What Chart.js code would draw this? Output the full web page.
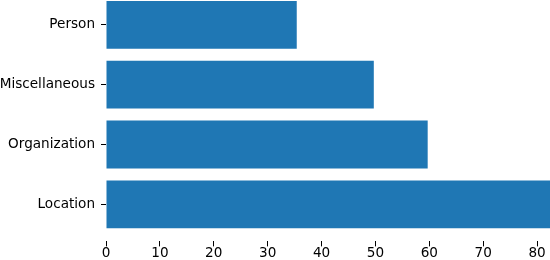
<!DOCTYPE html>
<html lang="en">
<head>
  <meta charset="UTF-8">
  <title>Entity Types</title>
  <script src="https://cdn.jsdelivr.net/npm/chart.js"></script>
  <style>
    * {
      margin: 0;
      padding: 0;
      box-sizing: border-box;
    }

    body {
      background-color: #fff;
    }

    .chart-container {
      position: relative;
      width: 550px;
      height: 260px;
    }
  </style>
</head>
<body>
  <div class="chart-container">
    <canvas id="entityChart"></canvas>
  </div>

  <script>
    // bottom to top, as in the picture
    const categories = ['Location', 'Organization', 'Miscellaneous', 'Person'];
    const counts = [82.4, 59.7, 49.7, 35.4];
    const xTicks = [0, 10, 20, 30, 40, 50, 60, 70, 80];

    const points = categories.map((name, i) => ({ x: counts[i], y: i }));

    const font = { family: "'DejaVu Sans', sans-serif", size: 13.6, lineHeight: 1 };

    const ctx = document.getElementById('entityChart').getContext('2d');
    new Chart(ctx, {
      type: 'bar',
      data: {
        datasets: [{
          data: points,
          backgroundColor: '#1f77b4',
          borderWidth: 0,
          barPercentage: 1,
          categoryPercentage: 0.8
        }]
      },
      options: {
        indexAxis: 'y',
        responsive: true,
        maintainAspectRatio: false,
        animation: false,
        layout: { padding: 0 },
        scales: {
          x: {
            type: 'linear',
            min: 0,
            max: 82.4,
            border: { display: false },
            grid: {
              drawOnChartArea: false,
              tickLength: 5,
              tickColor: '#000'
            },
            ticks: {
              stepSize: 10,
              includeBounds: false,
              color: '#000',
              font: font,
              padding: 0,
              maxRotation: 0,
              autoSkip: false,
              callback: v => xTicks.includes(v) ? String(v) : ''
            }
          },
          y: {
            type: 'linear',
            min: -0.62,
            max: 3.415,
            offset: false,
            border: { display: false },
            grid: {
              offset: false,
              drawOnChartArea: false,
              tickLength: 5,
              tickColor: '#000'
            },
            ticks: {
              stepSize: 1,
              includeBounds: false,
              color: '#000',
              font: font,
              padding: 6,
              autoSkip: false,
              callback: v => categories[v] !== undefined ? categories[v] : ''
            },
            afterFit: scale => {
              scale.width = 106;
              scale.paddingTop = 0;
              scale.paddingBottom = 0;
            }
          }
        },
        plugins: {
          legend: { display: false },
          tooltip: { enabled: false }
        }
      }
    });
  </script>
</body>
</html>
